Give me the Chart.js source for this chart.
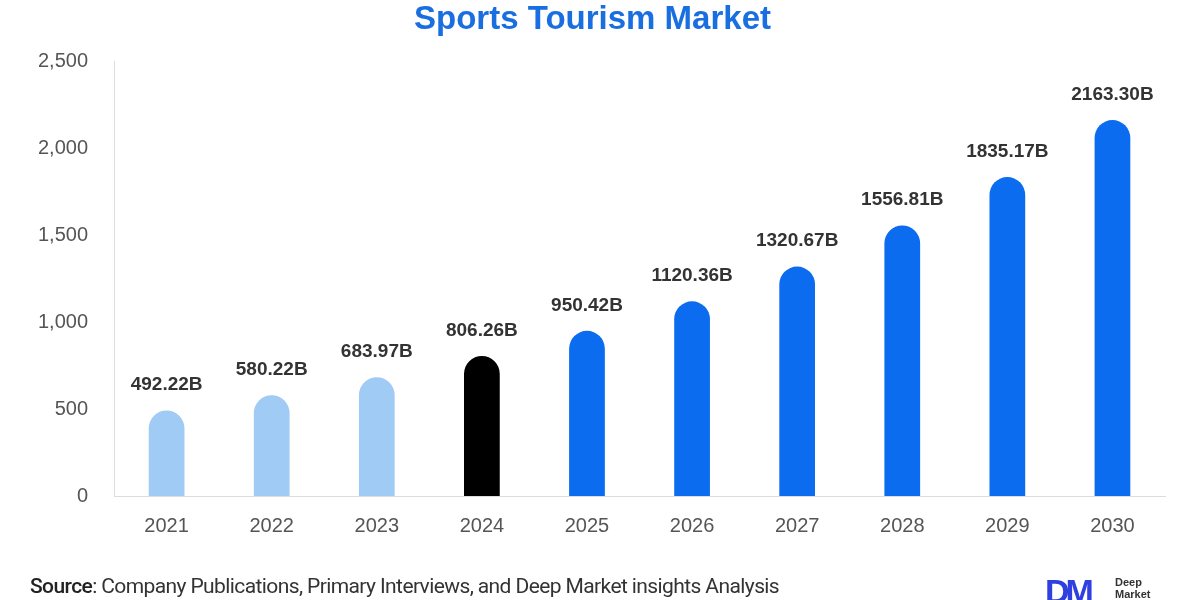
<!DOCTYPE html>
<html>
<head>
<meta charset="utf-8">
<script src="https://cdn.jsdelivr.net/npm/chart.js@4"></script>
<style>
  body { margin: 0; background: #fff; font-family: Arial, "Liberation Sans", sans-serif; }
  #wrap { position: relative; width: 1200px; height: 600px; }
  #source { position: absolute; left: 30px; top: 574px; font-family: Roboto, sans-serif; font-size: 21px; color: #333; letter-spacing: -0.6px; }
  #source b { font-weight: 500; color: #222; }
  #logo { position: absolute; left: 1045px; top: 572px; font-family: Arial, sans-serif; }
  #logo .dm { font-size: 34px; font-weight: bold; color: #2f3fe0; letter-spacing: -4px; }
  #logo .txt { position: absolute; left: 70px; top: 4px; font-size: 11px; font-weight: bold; color: #333; line-height: 12px; }
</style>
</head>
<body>
<div id="wrap">
  <canvas id="c" width="1200" height="600"></canvas>
  <div id="source"><b>Source</b>: Company Publications, Primary Interviews, and Deep Market insights Analysis</div>
  <div id="logo"><span class="dm">DM</span><div class="txt">Deep<br>Market</div></div>
</div>
<script>
const years = ['2021', '2022', '2023', '2024', '2025', '2026', '2027', '2028', '2029', '2030'];
const values = [492.22, 580.22, 683.97, 806.26, 950.42, 1120.36, 1320.67, 1556.81, 1835.17, 2163.30];
const barColors = ['#a0cbf5', '#a0cbf5', '#a0cbf5', '#000000', '#0c6cf0', '#0c6cf0', '#0c6cf0', '#0c6cf0', '#0c6cf0', '#0c6cf0'];

const valueLabels = {
  id: 'valueLabels',
  afterDatasetsDraw(chart) {
    const ctx = chart.ctx;
    const meta = chart.getDatasetMeta(0);
    ctx.save();
    ctx.font = 'bold 19px Arial, "Liberation Sans"';
    ctx.fillStyle = '#333';
    ctx.textAlign = 'center';
    ctx.textBaseline = 'bottom';
    meta.data.forEach((bar, i) => {
      ctx.fillText(values[i].toFixed(2) + 'B', bar.x, bar.y - 16);
    });
    ctx.restore();
  }
};

new Chart(document.getElementById('c'), {
  type: 'bar',
  data: {
    labels: years,
    datasets: [{ data: values, backgroundColor: barColors, borderRadius: { topLeft: 18, topRight: 18 }, borderSkipped: 'bottom', categoryPercentage: 1, barPercentage: 0.34 }]
  },
  options: {
    responsive: false, animation: false,
    layout: { padding: { left: 20, right: 35, top: 0, bottom: 52 } },
    plugins: {
      legend: { display: false }, tooltip: { enabled: false },
      title: { display: true, text: 'Sports Tourism Market', color: '#1a6fe0', font: { size: 33, weight: 'bold', family: 'Arial' }, padding: { top: 0, bottom: 22 } }
    },
    scales: {
      y: {
        min: 0, max: 2500,
        ticks: { stepSize: 500, color: '#555', font: { size: 20, family: 'Arial' }, padding: 18 },
        grid: { display: false },
        border: { color: '#ddd' }
      },
      x: {
        ticks: { color: '#555', font: { size: 20, family: 'Arial' }, padding: 10 },
        grid: { display: false },
        border: { color: '#ddd' }
      }
    }
  },
  plugins: [valueLabels]
});
</script>
</body>
</html>
